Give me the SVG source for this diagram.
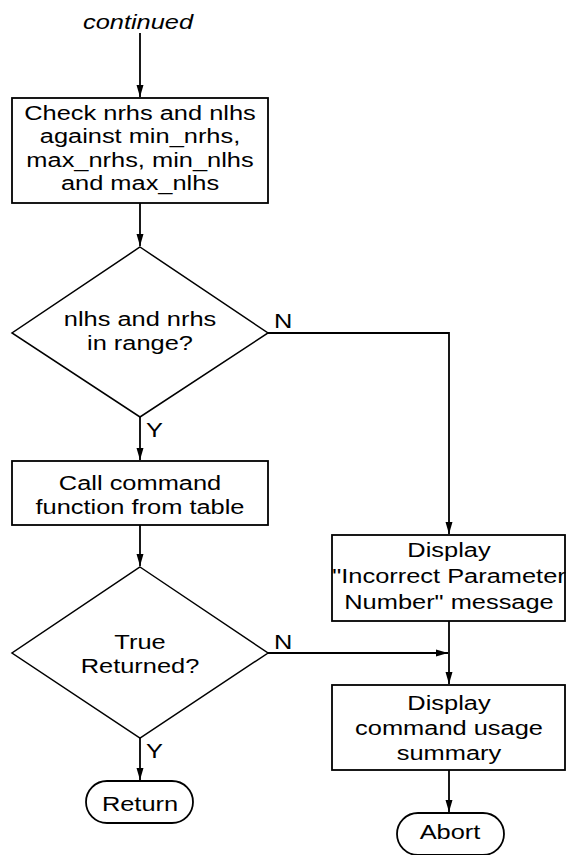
<svg xmlns="http://www.w3.org/2000/svg" width="566" height="855" viewBox="0 0 566 855">
  <style>
    .box { fill: #fff; stroke: #000; stroke-width: 1.8; }
    .dia { fill: #fff; stroke: #000; stroke-width: 1.5; }
    .wire { fill: none; stroke: #000; stroke-width: 1.8; }
    text { font-family: "Liberation Sans", Arial, sans-serif; font-size: 20px; fill: #000; }
    .c { text-anchor: middle; }
    .it { font-style: italic; }
  </style>
  <defs>
    <marker id="arrow" markerUnits="userSpaceOnUse" markerWidth="13" markerHeight="8" refX="12" refY="4" orient="auto">
      <path d="M0,0.5 L12,4 L0,7.5 Z" fill="#000"/>
    </marker>
  </defs>

  <g id="connectors">
    <line class="wire" x1="140" y1="33" x2="140" y2="97" marker-end="url(#arrow)"/>
    <line class="wire" x1="140" y1="203" x2="140" y2="246" marker-end="url(#arrow)"/>
    <line class="wire" x1="140" y1="417" x2="140" y2="460" marker-end="url(#arrow)"/>
    <polyline class="wire" points="268,333 449,333 449,534" marker-end="url(#arrow)"/>
    <line class="wire" x1="140" y1="525" x2="140" y2="566" marker-end="url(#arrow)"/>
    <line class="wire" x1="140" y1="738" x2="140" y2="780" marker-end="url(#arrow)"/>
    <line class="wire" x1="268" y1="653" x2="448" y2="653" marker-end="url(#arrow)"/>
    <line class="wire" x1="449" y1="621" x2="449" y2="684" marker-end="url(#arrow)"/>
    <line class="wire" x1="449" y1="770" x2="449" y2="812" marker-end="url(#arrow)"/>
    <text transform="matrix(1.27 0 0 1 274 0)" x="0" y="328">N</text>
    <text transform="matrix(1.27 0 0 1 146 0)" x="0" y="437">Y</text>
    <text transform="matrix(1.27 0 0 1 274 0)" x="0" y="649">N</text>
    <text transform="matrix(1.27 0 0 1 146 0)" x="0" y="758">Y</text>
  </g>

  <g id="continued">
    <text class="c it" transform="matrix(1.27 0 0 1 138 0)" x="0" y="29">continued</text>
  </g>

  <g id="check-counts">
    <rect class="box" x="12" y="98" width="256" height="105"/>
    <g class="c" transform="matrix(1.27 0 0 1 140 0)">
      <text class="c" x="0" y="120">Check nrhs and nlhs</text>
      <text class="c" x="0" y="143.5">against min_nrhs,</text>
      <text class="c" x="0" y="167">max_nrhs, min_nlhs</text>
      <text class="c" x="0" y="190.5">and max_nlhs</text>
    </g>
  </g>

  <g id="in-range">
    <polygon class="dia" points="140,247 268,333 140,417 12,333"/>
    <g transform="matrix(1.27 0 0 1 140 0)">
      <text class="c" x="0" y="326">nlhs and nrhs</text>
      <text class="c" x="0" y="350">in range?</text>
    </g>
  </g>

  <g id="call-command">
    <rect class="box" x="12" y="461" width="256" height="64"/>
    <g transform="matrix(1.27 0 0 1 140 0)">
      <text class="c" x="0" y="490">Call command</text>
      <text class="c" x="0" y="514">function from table</text>
    </g>
  </g>

  <g id="true-returned">
    <polygon class="dia" points="140,567 268,653 140,738 12,653"/>
    <g transform="matrix(1.27 0 0 1 140 0)">
      <text class="c" x="0" y="649">True</text>
      <text class="c" x="0" y="673">Returned?</text>
    </g>
  </g>

  <g id="return">
    <rect class="box" x="86" y="781" width="107" height="42" rx="21" ry="21"/>
    <text class="c" transform="matrix(1.27 0 0 1 140 0)" x="0" y="811">Return</text>
  </g>

  <g id="param-message">
    <rect class="box" x="332" y="535" width="233" height="86"/>
    <g transform="matrix(1.27 0 0 1 449 0)">
      <text class="c" x="0" y="557">Display</text>
      <text class="c" x="0" y="583">"Incorrect Parameter</text>
      <text class="c" x="0" y="609">Number" message</text>
    </g>
  </g>

  <g id="usage-summary">
    <rect class="box" x="332" y="685" width="233" height="85"/>
    <g transform="matrix(1.27 0 0 1 449 0)">
      <text class="c" x="0" y="710">Display</text>
      <text class="c" x="0" y="735">command usage</text>
      <text class="c" x="0" y="760">summary</text>
    </g>
  </g>

  <g id="abort">
    <rect class="box" x="397" y="813" width="107" height="42" rx="21" ry="21"/>
    <text class="c" transform="matrix(1.27 0 0 1 450 0)" x="0" y="839">Abort</text>
  </g>
</svg>
